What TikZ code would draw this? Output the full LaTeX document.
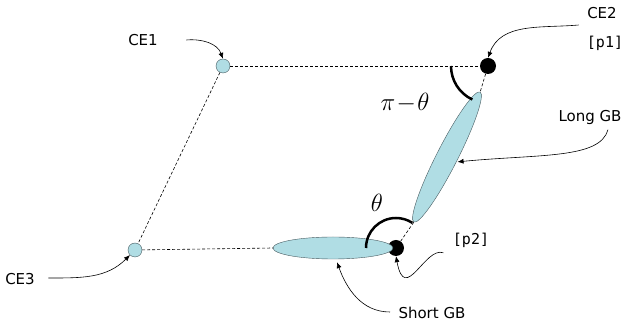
\documentclass[tikz,border=0pt]{standalone}
\usepackage{fontspec}
\setsansfont{DejaVu Sans}
\setmonofont{DejaVu Sans Mono}
\usetikzlibrary{shapes.geometric, arrows.meta}
\definecolor{gbblue}{RGB}{176,221,228}
\definecolor{gbedge}{RGB}{70,90,95}
\tikzset{
  cedot/.style={circle, draw=gbedge, fill=gbblue, minimum size=14pt, inner sep=0pt},
  pdot/.style={circle, fill=black, minimum size=16pt, inner sep=0pt},
  grain/.style={ellipse, draw=gbedge, fill=gbblue, inner sep=0pt},
  guide/.style={dash pattern=on 3pt off 2pt, line width=0.6pt},
  pointer/.style={-{Latex[length=6pt, width=5pt]}, line width=0.6pt},
  anglearc/.style={line width=2.5pt},
  lbl/.style={font=\sffamily\fontsize{15}{17}\selectfont},
  tag/.style={font=\ttfamily\fontsize{15}{17}\selectfont},
  ang/.style={font=\fontsize{27}{30}\selectfont}
}

\begin{document}
\begin{tikzpicture}[x=1pt, y=1pt]
            \useasboundingbox (0,0) rectangle (625,329);
            % junctions and grains
            \node[cedot] (ce1) at (223,263) {};
            \node[pdot] (ce2) at (488,263) {};
            \node[cedot] (ce3) at (135,79) {};
            \node[pdot] (p2) at (396,81) {};
            \node[grain, minimum width=120pt, minimum height=22pt] (shortgb) at (333,81) {};
            \node[grain, minimum width=146pt, minimum height=21pt, rotate=63] (longgb) at (447,172) {};
            % dashed frame
            \draw[guide] (ce1) -- (ce2);
            \draw[guide] (ce1) -- (ce3);
            \draw[guide] (ce3) -- (shortgb.west);
            \draw[guide] (p2) -- (longgb.west);
            \draw[guide] (ce2) -- (longgb.east);
            % angles
            \draw[anglearc] ([shift={(180:37pt)}]ce2.center) arc[start angle=180, end angle=245, radius=37pt];
            \draw[anglearc] ([shift={(180:30pt)}]p2.center) arc[start angle=180, end angle=57, radius=30pt];
            \node[ang] (pitheta) at (405,226) {$\pi\!-\!\theta$};
            \node[ang] (theta) at (377,126) {$\theta$};
            % labels
            \node[lbl] (lblce1) at (143,289) {CE1};
            \node[lbl] (lblce2) at (602,316) {CE2};
            \node[tag] (lblp1) at (605,286) {[p1]};
            \node[lbl] (lbllong) at (590,212) {Long GB};
            \node[lbl] (lblce3) at (20,50) {CE3};
            \node[tag] (lblp2) at (471,89) {[p2]};
            \node[lbl] (lblshort) at (432,16) {Short GB};
            % pointers
            \draw[pointer] ([xshift=25pt]lblce1.east) to[out=5, in=110] (ce1.north);
            \draw[pointer] ([xshift=-5pt, yshift=-12pt]lblce2.west) to[out=185, in=70] (ce2.north);
            \draw[pointer] ([xshift=18pt, yshift=-2pt]lbllong.south) .. controls (600,170) and (540,175) .. ([xshift=1pt]longgb.south);
            \draw[pointer] ([xshift=10pt, yshift=1pt]lblce3.east) to[out=0, in=225] (ce3.south west);
            \draw[pointer] ([xshift=-6pt, yshift=-2pt]lblp2.south west) .. controls (425,83) and (405,24) .. (p2.south);
            \draw[pointer] ([xshift=-5pt, yshift=1pt]lblshort.west) to[out=180, in=-70] ([xshift=4pt, yshift=-3pt]shortgb.south);
        \end{tikzpicture}
\end{document}
